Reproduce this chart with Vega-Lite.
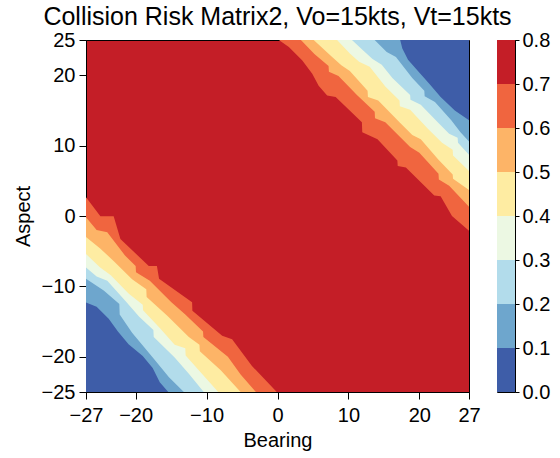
{
  "$schema": "https://vega.github.io/schema/vega-lite/v6.json",
  "padding": {"left": 12, "top": 4, "right": 0, "bottom": 0},
  "background": "white",
  "config": {
    "font": "Liberation Sans",
    "axis": {"grid": false, "domainColor": "black", "tickColor": "black", "labelColor": "black", "titleColor": "black", "tickSize": 7, "labelFontSize": 20, "titleFontSize": 20, "titleFontWeight": "normal", "labelFlush": false, "labelOverlap": false},
    "title": {"fontSize": 25, "fontWeight": "normal", "color": "black"}
  },
  "datasets": {
    "contours": [
      {"k":"u7","r":0.65,"b":0.19,"a":25},{"k":"u7","r":0.65,"b":1.6,"a":24.0},{"k":"u7","r":0.65,"b":3.5,"a":22.1},{"k":"u7","r":0.65,"b":4.9,"a":20.2},{"k":"u7","r":0.65,"b":5.8,"a":18.5},{"k":"u7","r":0.65,"b":7.0,"a":17.1},{"k":"u7","r":0.65,"b":8.2,"a":16.9},{"k":"u7","r":0.65,"b":11.9,"a":13.3},{"k":"u7","r":0.65,"b":11.95,"a":11.9},{"k":"u7","r":0.65,"b":14.1,"a":10.9},{"k":"u7","r":0.65,"b":16.9,"a":7.9},{"k":"u7","r":0.65,"b":16.95,"a":7.1},{"k":"u7","r":0.65,"b":18.1,"a":6.9},{"k":"u7","r":0.65,"b":22.1,"a":2.9},{"k":"u7","r":0.65,"b":23.0,"a":2.8},{"k":"u7","r":0.65,"b":24.6,"a":0.0},{"k":"u7","r":0.65,"b":27,"a":-2.1},
      {"k":"u6","r":0.55,"b":3.3,"a":25},{"k":"u6","r":0.55,"b":5.2,"a":23.0},{"k":"u6","r":0.55,"b":7.2,"a":21.3},{"k":"u6","r":0.55,"b":7.25,"a":20.5},{"k":"u6","r":0.55,"b":8.6,"a":19.9},{"k":"u6","r":0.55,"b":11.2,"a":17.2},{"k":"u6","r":0.55,"b":13.7,"a":14.8},{"k":"u6","r":0.55,"b":13.75,"a":13.9},{"k":"u6","r":0.55,"b":15.2,"a":13.3},{"k":"u6","r":0.55,"b":18.7,"a":9.8},{"k":"u6","r":0.55,"b":20.0,"a":9.0},{"k":"u6","r":0.55,"b":22.7,"a":6.0},{"k":"u6","r":0.55,"b":22.75,"a":5.2},{"k":"u6","r":0.55,"b":24.2,"a":4.3},{"k":"u6","r":0.55,"b":27,"a":1.3},
      {"k":"u5","r":0.45,"b":5.1,"a":25},{"k":"u5","r":0.45,"b":7.7,"a":22.6},{"k":"u5","r":0.45,"b":9.0,"a":21.4},{"k":"u5","r":0.45,"b":10.2,"a":20.6},{"k":"u5","r":0.45,"b":12.7,"a":17.8},{"k":"u5","r":0.45,"b":12.75,"a":16.9},{"k":"u5","r":0.45,"b":14.2,"a":16.4},{"k":"u5","r":0.45,"b":17.2,"a":13.3},{"k":"u5","r":0.45,"b":19.0,"a":11.5},{"k":"u5","r":0.45,"b":20.2,"a":10.9},{"k":"u5","r":0.45,"b":22.7,"a":8.0},{"k":"u5","r":0.45,"b":24.7,"a":5.9},{"k":"u5","r":0.45,"b":24.75,"a":5.3},{"k":"u5","r":0.45,"b":27,"a":3.7},
      {"k":"u4","r":0.35,"b":8.4,"a":25},{"k":"u4","r":0.35,"b":10.2,"a":23.1},{"k":"u4","r":0.35,"b":11.5,"a":21.9},{"k":"u4","r":0.35,"b":13.0,"a":21.2},{"k":"u4","r":0.35,"b":15.2,"a":18.4},{"k":"u4","r":0.35,"b":17.2,"a":16.4},{"k":"u4","r":0.35,"b":17.25,"a":15.6},{"k":"u4","r":0.35,"b":18.7,"a":15.1},{"k":"u4","r":0.35,"b":21.2,"a":12.4},{"k":"u4","r":0.35,"b":23.2,"a":10.4},{"k":"u4","r":0.35,"b":24.7,"a":9.4},{"k":"u4","r":0.35,"b":24.75,"a":8.6},{"k":"u4","r":0.35,"b":27,"a":6.4},
      {"k":"u3","r":0.25,"b":10.5,"a":25},{"k":"u3","r":0.25,"b":12.2,"a":23.4},{"k":"u3","r":0.25,"b":13.4,"a":22.3},{"k":"u3","r":0.25,"b":14.7,"a":21.5},{"k":"u3","r":0.25,"b":16.2,"a":19.6},{"k":"u3","r":0.25,"b":18.7,"a":17.2},{"k":"u3","r":0.25,"b":18.75,"a":16.5},{"k":"u3","r":0.25,"b":20.2,"a":15.8},{"k":"u3","r":0.25,"b":22.7,"a":13.2},{"k":"u3","r":0.25,"b":24.2,"a":11.7},{"k":"u3","r":0.25,"b":25.4,"a":11.1},{"k":"u3","r":0.25,"b":25.45,"a":10.4},{"k":"u3","r":0.25,"b":27,"a":8.7},
      {"k":"u2","r":0.15,"b":13.7,"a":25},{"k":"u2","r":0.15,"b":15.4,"a":23.3},{"k":"u2","r":0.15,"b":16.7,"a":22.6},{"k":"u2","r":0.15,"b":19.0,"a":19.6},{"k":"u2","r":0.15,"b":20.7,"a":17.8},{"k":"u2","r":0.15,"b":20.75,"a":17.0},{"k":"u2","r":0.15,"b":22.2,"a":16.2},{"k":"u2","r":0.15,"b":24.5,"a":13.6},{"k":"u2","r":0.15,"b":25.8,"a":11.9},{"k":"u2","r":0.15,"b":27,"a":10.6},
      {"k":"u1","r":0.05,"b":17.3,"a":25},{"k":"u1","r":0.05,"b":17.6,"a":23.8},{"k":"u1","r":0.05,"b":18.4,"a":22.2},{"k":"u1","r":0.05,"b":19.8,"a":20.6},{"k":"u1","r":0.05,"b":21.4,"a":18.8},{"k":"u1","r":0.05,"b":23.0,"a":16.9},{"k":"u1","r":0.05,"b":25.0,"a":15.0},{"k":"u1","r":0.05,"b":27,"a":13.6},
      {"k":"l7","r":0.65,"b":-27,"a":2.66},{"k":"l7","r":0.65,"b":-24.97,"a":-0.04},{"k":"l7","r":0.65,"b":-23.1,"a":-0.04},{"k":"l7","r":0.65,"b":-22.15,"a":-3.27},{"k":"l7","r":0.65,"b":-18.15,"a":-7.1},{"k":"l7","r":0.65,"b":-17.0,"a":-7.1},{"k":"l7","r":0.65,"b":-16.7,"a":-8.9},{"k":"l7","r":0.65,"b":-12.04,"a":-12.26},{"k":"l7","r":0.65,"b":-12.0,"a":-13.45},{"k":"l7","r":0.65,"b":-7.8,"a":-17.0},{"k":"l7","r":0.65,"b":-6.4,"a":-17.5},{"k":"l7","r":0.65,"b":-3.6,"a":-21.3},{"k":"l7","r":0.65,"b":-0.1,"a":-25},
      {"k":"l6","r":0.55,"b":-27,"a":-0.19},{"k":"l6","r":0.55,"b":-25.5,"a":-2.0},{"k":"l6","r":0.55,"b":-24.0,"a":-2.3},{"k":"l6","r":0.55,"b":-21.5,"a":-5.6},{"k":"l6","r":0.55,"b":-20.0,"a":-7.1},{"k":"l6","r":0.55,"b":-19.95,"a":-8.0},{"k":"l6","r":0.55,"b":-18.0,"a":-9.2},{"k":"l6","r":0.55,"b":-15.0,"a":-12.2},{"k":"l6","r":0.55,"b":-13.0,"a":-14.0},{"k":"l6","r":0.55,"b":-10.5,"a":-16.4},{"k":"l6","r":0.55,"b":-10.45,"a":-17.2},{"k":"l6","r":0.55,"b":-7.0,"a":-20.0},{"k":"l6","r":0.55,"b":-5.2,"a":-22.5},{"k":"l6","r":0.55,"b":-3.05,"a":-25},
      {"k":"l5","r":0.45,"b":-27,"a":-3.0},{"k":"l5","r":0.45,"b":-25.0,"a":-4.6},{"k":"l5","r":0.45,"b":-23.0,"a":-6.5},{"k":"l5","r":0.45,"b":-20.5,"a":-9.0},{"k":"l5","r":0.45,"b":-18.5,"a":-10.4},{"k":"l5","r":0.45,"b":-18.45,"a":-11.5},{"k":"l5","r":0.45,"b":-15.5,"a":-14.2},{"k":"l5","r":0.45,"b":-12.5,"a":-17.2},{"k":"l5","r":0.45,"b":-11.0,"a":-18.3},{"k":"l5","r":0.45,"b":-10.95,"a":-19.2},{"k":"l5","r":0.45,"b":-8.0,"a":-21.9},{"k":"l5","r":0.45,"b":-5.2,"a":-25},
      {"k":"l4","r":0.35,"b":-27,"a":-5.4},{"k":"l4","r":0.35,"b":-25.0,"a":-7.3},{"k":"l4","r":0.35,"b":-23.5,"a":-8.4},{"k":"l4","r":0.35,"b":-21.0,"a":-11.0},{"k":"l4","r":0.35,"b":-19.0,"a":-12.6},{"k":"l4","r":0.35,"b":-18.95,"a":-13.4},{"k":"l4","r":0.35,"b":-16.5,"a":-16.0},{"k":"l4","r":0.35,"b":-14.5,"a":-18.3},{"k":"l4","r":0.35,"b":-13.0,"a":-18.8},{"k":"l4","r":0.35,"b":-12.95,"a":-19.8},{"k":"l4","r":0.35,"b":-10.5,"a":-22.6},{"k":"l4","r":0.35,"b":-8.35,"a":-25},
      {"k":"l3","r":0.25,"b":-27,"a":-7.3},{"k":"l3","r":0.25,"b":-25.5,"a":-8.6},{"k":"l3","r":0.25,"b":-24.0,"a":-9.2},{"k":"l3","r":0.25,"b":-21.5,"a":-12.0},{"k":"l3","r":0.25,"b":-19.5,"a":-14.3},{"k":"l3","r":0.25,"b":-17.5,"a":-16.2},{"k":"l3","r":0.25,"b":-17.45,"a":-17.2},{"k":"l3","r":0.25,"b":-14.5,"a":-20.1},{"k":"l3","r":0.25,"b":-12.5,"a":-22.4},{"k":"l3","r":0.25,"b":-10.4,"a":-25},
      {"k":"l2","r":0.15,"b":-27,"a":-8.9},{"k":"l2","r":0.15,"b":-24.5,"a":-10.6},{"k":"l2","r":0.15,"b":-22.3,"a":-12.5},{"k":"l2","r":0.15,"b":-22.25,"a":-14.0},{"k":"l2","r":0.15,"b":-20.5,"a":-16.6},{"k":"l2","r":0.15,"b":-17.5,"a":-20.2},{"k":"l2","r":0.15,"b":-15.3,"a":-22.9},{"k":"l2","r":0.15,"b":-13.2,"a":-25},
      {"k":"l1","r":0.05,"b":-27,"a":-12.3},{"k":"l1","r":0.05,"b":-25.5,"a":-12.9},{"k":"l1","r":0.05,"b":-23.8,"a":-14.6},{"k":"l1","r":0.05,"b":-22.5,"a":-16.4},{"k":"l1","r":0.05,"b":-21.0,"a":-18.2},{"k":"l1","r":0.05,"b":-19.0,"a":-19.9},{"k":"l1","r":0.05,"b":-17.6,"a":-21.6},{"k":"l1","r":0.05,"b":-16.6,"a":-23.6},{"k":"l1","r":0.05,"b":-15.4,"a":-25}
    ],
    "bar": [
      {"lo":0.0,"hi":0.1,"r":0.05},{"lo":0.1,"hi":0.2,"r":0.15},{"lo":0.2,"hi":0.3,"r":0.25},{"lo":0.3,"hi":0.4,"r":0.35},
      {"lo":0.4,"hi":0.5,"r":0.45},{"lo":0.5,"hi":0.6,"r":0.55},{"lo":0.6,"hi":0.7,"r":0.65},{"lo":0.7,"hi":0.8,"r":0.75}
    ]
  },
  "hconcat": [
    {
      "title": {"text": "Collision Risk Matrix2, Vo=15kts, Vt=15kts", "offset": 0},
      "width": 383,
      "height": 352,
      "view": {"fill": "#c41e27", "stroke": "black", "strokeWidth": 1},
      "data": {"name": "contours"},
      "encoding": {
        "x": {"field": "b", "type": "quantitative", "scale": {"domain": [-27, 27], "nice": false, "zero": false}, "axis": {"title": "Bearing", "values": [-27, -20, -10, 0, 10, 20, 27], "labelPadding": 6, "titlePadding": 5}},
        "y": {"field": "a", "type": "quantitative", "scale": {"domain": [-25, 25], "nice": false, "zero": false}, "axis": {"title": "Aspect", "values": [-25, -20, -10, 0, 10, 20, 25], "labelPadding": 4, "titlePadding": 8}},
        "color": {"field": "r", "type": "quantitative", "scale": {"type": "quantize", "domain": [0, 0.8], "range": ["#3e5da8","#6ea6cd","#b2dceb","#ecf8e3","#feeca2","#fdb467","#f0653f","#c41e27"]}, "legend": null}
      },
      "layer": [
        {"transform": [{"filter": "datum.k == 'u7'"}], "mark": {"type": "area", "clip": true}, "encoding": {"y2": {"datum": 25}}},
        {"transform": [{"filter": "datum.k == 'u6'"}], "mark": {"type": "area", "clip": true}, "encoding": {"y2": {"datum": 25}}},
        {"transform": [{"filter": "datum.k == 'u5'"}], "mark": {"type": "area", "clip": true}, "encoding": {"y2": {"datum": 25}}},
        {"transform": [{"filter": "datum.k == 'u4'"}], "mark": {"type": "area", "clip": true}, "encoding": {"y2": {"datum": 25}}},
        {"transform": [{"filter": "datum.k == 'u3'"}], "mark": {"type": "area", "clip": true}, "encoding": {"y2": {"datum": 25}}},
        {"transform": [{"filter": "datum.k == 'u2'"}], "mark": {"type": "area", "clip": true}, "encoding": {"y2": {"datum": 25}}},
        {"transform": [{"filter": "datum.k == 'u1'"}], "mark": {"type": "area", "clip": true}, "encoding": {"y2": {"datum": 25}}},
        {"transform": [{"filter": "datum.k == 'l7'"}], "mark": {"type": "area", "clip": true}, "encoding": {"y2": {"datum": -25}}},
        {"transform": [{"filter": "datum.k == 'l6'"}], "mark": {"type": "area", "clip": true}, "encoding": {"y2": {"datum": -25}}},
        {"transform": [{"filter": "datum.k == 'l5'"}], "mark": {"type": "area", "clip": true}, "encoding": {"y2": {"datum": -25}}},
        {"transform": [{"filter": "datum.k == 'l4'"}], "mark": {"type": "area", "clip": true}, "encoding": {"y2": {"datum": -25}}},
        {"transform": [{"filter": "datum.k == 'l3'"}], "mark": {"type": "area", "clip": true}, "encoding": {"y2": {"datum": -25}}},
        {"transform": [{"filter": "datum.k == 'l2'"}], "mark": {"type": "area", "clip": true}, "encoding": {"y2": {"datum": -25}}},
        {"transform": [{"filter": "datum.k == 'l1'"}], "mark": {"type": "area", "clip": true}, "encoding": {"y2": {"datum": -25}}}
      ]
    },
    {
      "width": 18,
      "height": 352,
      "view": {"stroke": "black", "strokeWidth": 1},
      "data": {"name": "bar"},
      "mark": {"type": "rect"},
      "encoding": {
        "y": {"field": "lo", "type": "quantitative", "scale": {"domain": [0, 0.8], "nice": false, "zero": false}, "axis": {"orient": "right", "title": null, "values": [0, 0.1, 0.2, 0.3, 0.4, 0.5, 0.6, 0.7, 0.8], "format": ".1f", "tickSize": 4, "labelPadding": 3}},
        "y2": {"field": "hi"},
        "color": {"field": "r", "type": "quantitative", "scale": {"type": "quantize", "domain": [0, 0.8], "range": ["#3e5da8","#6ea6cd","#b2dceb","#ecf8e3","#feeca2","#fdb467","#f0653f","#c41e27"]}, "legend": null}
      }
    }
  ],
  "spacing": 28,
  "bounds": "flush",
  "resolve": {"scale": {"color": "independent", "y": "independent"}}
}
